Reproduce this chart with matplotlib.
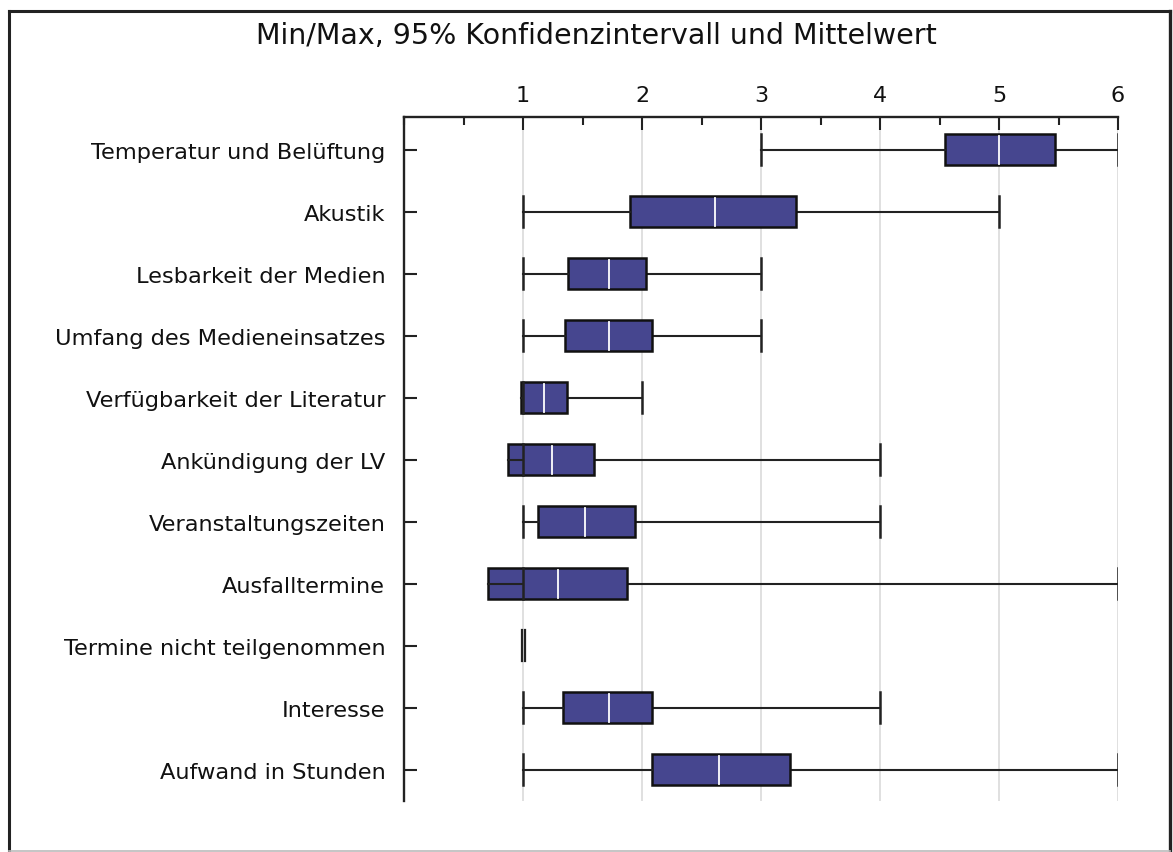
import matplotlib
matplotlib.use("Agg")
import matplotlib.pyplot as plt
from matplotlib.patches import Rectangle
from matplotlib.lines import Line2D
from matplotlib.ticker import MultipleLocator

categories = ["Temperatur und Belüftung", "Akustik", "Lesbarkeit der Medien",
              "Umfang des Medieneinsatzes", "Verfügbarkeit der Literatur",
              "Ankündigung der LV", "Veranstaltungszeiten", "Ausfalltermine",
              "Termine nicht teilgenommen", "Interesse", "Aufwand in Stunden"]
mins  = [3, 1, 1, 1, 1, 1, 1, 1, 1.0, 1, 1]
maxs  = [6, 5, 3, 3, 2, 4, 4, 6, 1.0, 4, 6]
ci_lo = [4.55, 1.90, 1.38, 1.35, 0.98, 0.87, 1.13, 0.71, 0.99, 1.34, 2.08]
ci_hi = [5.47, 3.29, 2.03, 2.08, 1.37, 1.60, 1.94, 1.87, 1.02, 2.08, 3.24]
means = [5.00, 2.61, 1.72, 1.72, 1.18, 1.24, 1.52, 1.29, 1.00, 1.72, 2.65]
title = "Min/Max, 95% Konfidenzintervall und Mittelwert"

W, H = 1173, 853
fig = plt.figure(figsize=(W / 100, H / 100), dpi=100)
plt.rcParams['font.family'] = ['DejaVu Sans']

def fx(px):
    return px / W

def fy(py):
    return 1 - py / H

# outer frame
frame_dark = "#222222"
fig.add_artist(Line2D([fx(9), fx(1170)], [fy(12), fy(12)], color=frame_dark, linewidth=2.2))
fig.add_artist(Line2D([fx(9), fx(9)], [fy(12), fy(852)], color=frame_dark, linewidth=2.2))
fig.add_artist(Line2D([fx(1170), fx(1170)], [fy(12), fy(852)], color=frame_dark, linewidth=2.4))
fig.add_artist(Line2D([fx(9), fx(1170)], [fy(851.5), fy(851.5)], color="#bbbbbb", linewidth=1.2))

left, right, top, bottom = 404, 1118, 118, 802
ax = fig.add_axes([fx(left), fy(bottom), (right - left) / W, (bottom - top) / H])

n = len(categories)
ax.set_xlim(0, 6)
ax.set_ylim(n - 0.5, -0.53)
ys = list(range(n))

box_color = "#46468f"
line_color = "#222222"
bh = 0.5
cap = 0.5
for y, mn, mx, lo, hi, m in zip(ys, mins, maxs, ci_lo, ci_hi, means):
    narrow = (hi - lo) < 0.06
    if narrow:
        for xv in (lo + 0.005, hi - 0.005):
            ax.plot([xv, xv], [y - bh / 2, y + bh / 2], color=line_color,
                    linewidth=1.6, zorder=5)
        continue
    ax.add_patch(Rectangle((lo, y - bh / 2), hi - lo, bh,
                           facecolor=box_color, edgecolor="#111111",
                           linewidth=1.8, zorder=3))
    ax.plot([m, m], [y - bh / 2 + 0.03, y + bh / 2 - 0.03], color="white",
            linewidth=1.3, zorder=4)
    # whiskers
    if mn != lo:
        ax.plot([mn, lo], [y, y], color=line_color, linewidth=1.5, zorder=5)
    if mx != hi:
        ax.plot([hi, mx], [y, y], color=line_color, linewidth=1.5, zorder=2)
    ax.plot([mn, mn], [y - cap / 2, y + cap / 2], color=line_color, linewidth=1.8, zorder=5)
    ax.plot([mx, mx], [y - cap / 2, y + cap / 2], color=line_color, linewidth=1.8, zorder=5)

ax.set_yticks(ys)
ax.set_yticklabels(categories, fontsize=16.2, color="#111111")
ax.xaxis.tick_top()
ax.set_xticks([1, 2, 3, 4, 5, 6])
ax.set_xticklabels(["1", "2", "3", "4", "5", "6"], fontsize=16, color="#111111")
ax.xaxis.set_minor_locator(MultipleLocator(0.5))
ax.tick_params(axis="x", which="major", direction="in", length=9, width=1.5,
               pad=8.5, colors=line_color, labelcolor="#111111")
ax.tick_params(axis="x", which="minor", direction="in", length=6, width=1.5,
               colors=line_color)
ax.tick_params(axis="y", direction="in", length=9, width=1.5, pad=13.5,
               colors=line_color, labelcolor="#111111")
for s in ["right", "bottom"]:
    ax.spines[s].set_visible(False)
for s in ["top", "left"]:
    ax.spines[s].set_linewidth(1.7)
    ax.spines[s].set_color(line_color)
ax.grid(axis="x", which="major", color="#dddddd", linewidth=1.3, zorder=0)
ax.set_axisbelow(True)

fig.text(fx(596), fy(36), title, ha="center", va="center", fontsize=20.5,
         color="#111111")

fig.savefig("out.png", dpi=100)
